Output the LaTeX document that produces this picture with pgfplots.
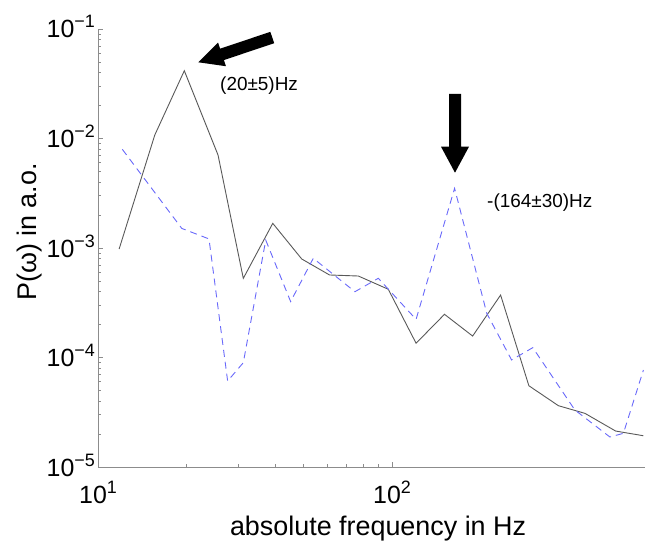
\documentclass[border=0pt]{standalone}
\usepackage{fontspec}
\setmainfont{Liberation Sans}
\usepackage{pgfplots}
\pgfplotsset{compat=1.18}
\newcommand{\tp}[1]{10\raisebox{10bp}{\fontsize{18}{18}\selectfont #1}}
\definecolor{dblue}{RGB}{105,105,250}
\definecolor{axgray}{RGB}{140,140,140}
\begin{document}
\begin{tikzpicture}
\useasboundingbox (-98bp,-75bp) rectangle (547bp,467bp);
\begin{axis}[
  at={(0bp,0bp)}, anchor=south west,
  scale only axis, width=547bp, height=438bp,
  xmode=log, ymode=log,
  xmin=10, xmax=725, ymin=1e-5, ymax=1e-1,
  axis lines=left,
  axis line style={-, draw=axgray, line width=0.8bp},
  every tick/.style={draw=axgray, line width=0.6bp},
  major tick length=5bp, minor tick length=3bp,
  tick align=inside,
  clip=false,
  xtick={10,100}, xticklabels={\tp{1},\tp{2}},
  ytick={1e-5,1e-4,1e-3,1e-2,1e-1},
  yticklabels={\tp{−5},\tp{−4},\tp{−3},\tp{−2},\tp{−1}},
  tick label style={font=\fontsize{25}{25}\selectfont, inner sep=0pt},
  xticklabel style={anchor=base, yshift=-36bp},
  yticklabel style={anchor=base east, xshift=-3bp, yshift=-9bp},
  xlabel={absolute frequency in Hz},
  xlabel style={at={(axis description cs:0.512,-0.1575)}, anchor=base, font=\fontsize{27}{27}\selectfont, inner sep=0pt},
  ylabel={P(ω) in a.o.},
  ylabel style={at={(axis description cs:-0.1133,0.5365)}, anchor=base, font=\fontsize{27}{27}\selectfont, inner sep=0pt},
]
\addplot[black!65, line width=0.9bp] coordinates {
(11.8,9.8e-4) (15.6,1.076e-2) (19.66,4.16e-2) (25.6,7.06e-3) (31.2,5.28e-4)
(39.3,1.68e-3) (49.3,7.94e-4) (61.3,5.67e-4) (76.8,5.55e-4) (97.1,4.2e-4)
(120.7,1.35e-4) (150.8,2.48e-4) (188,1.57e-4) (234,3.72e-4) (292,5.52e-5)
(368,3.63e-5) (453,3.09e-5) (576,2.13e-5) (716,1.93e-5)
};
\addplot[dblue, line width=0.9bp, dash pattern=on 7bp off 5bp] coordinates {
(12.1,7.96e-3) (19.27,1.51e-3) (23.85,1.21e-3) (27.6,6.1e-5) (31.2,8.97e-5)
(37.2,1.18e-3) (45.2,3.24e-4) (53.96,8.05e-4) (74.8,3.99e-4) (89.8,5.29e-4)
(120.7,2.23e-4) (163.2,3.51e-3) (210,2.53e-4) (255,9.5e-5) (301,1.23e-4)
(418.5,3.32e-5) (550.6,1.88e-5) (612,2.03e-5) (716,7.69e-5)
};
\node[anchor=base west, font=\fontsize{19}{19}\selectfont, inner sep=0pt] at (axis cs:26,0.0272) {(20±5)Hz};
\node[anchor=base west, font=\fontsize{19}{19}\selectfont, inner sep=0pt] at (axis cs:210.4,2.32e-3) {-(164±30)Hz};
\end{axis}
\fill[black, shift={(100.3bp,404.7bp)}, rotate=198.5] (0bp,0bp) -- (-25bp,12.5bp) -- (-25bp,6bp) -- (-78bp,6bp) -- (-78bp,-6bp) -- (-25bp,-6bp) -- (-25bp,-12.5bp) -- cycle;
\fill[black, shift={(357bp,294.3bp)}, rotate=-90] (0bp,0bp) -- (-26bp,14bp) -- (-26bp,6bp) -- (-78.7bp,6bp) -- (-78.7bp,-6bp) -- (-26bp,-6bp) -- (-26bp,-14bp) -- cycle;
\end{tikzpicture}
\end{document}
